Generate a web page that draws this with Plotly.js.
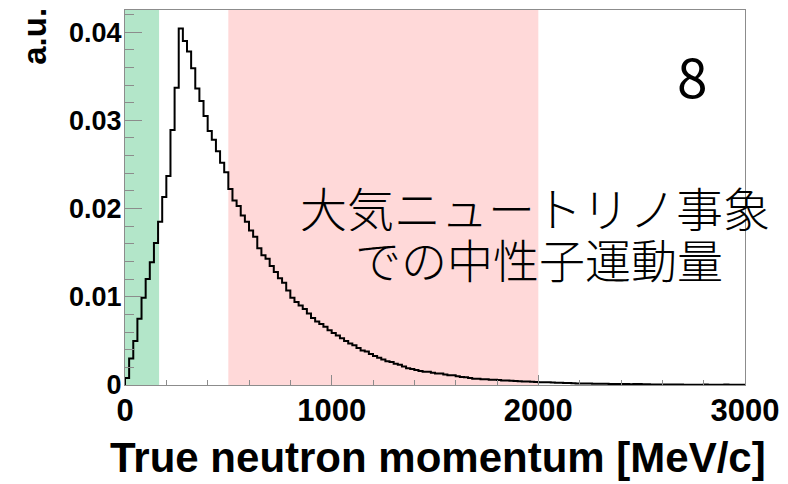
<!DOCTYPE html>
<html>
<head>
<meta charset="utf-8">
<script src="https://cdn.plot.ly/plotly-3.0.1.min.js"></script>
<style>
  html, body { margin: 0; padding: 0; background: #fff; }
  #chart { width: 788px; height: 484px; }
</style>
</head>
<body>
<div id="chart"></div>
<script>
// Neutron momentum spectrum, 20 MeV/c bins from 0 to 3000 MeV/c
const binWidth = 20;
const binStart = 0;
const counts = [
  0.0008, 0.0030, 0.0050, 0.0075, 0.0099, 0.0120, 0.0139, 0.0161, 0.0185, 0.0213,
  0.0237, 0.0289, 0.0337, 0.0404, 0.0390, 0.0378, 0.0359, 0.0336, 0.0322, 0.0305,
  0.0288, 0.0278, 0.0265, 0.0252, 0.0241, 0.0222, 0.0209, 0.0203, 0.0192, 0.0185,
  0.0175, 0.0168, 0.0155, 0.0147, 0.0143, 0.0135, 0.0128, 0.0121, 0.0116, 0.0107,
  0.0099, 0.0094, 0.0090, 0.0086, 0.0081, 0.0076, 0.0072, 0.0069, 0.0066, 0.0062,
  0.0059, 0.0056, 0.0053, 0.0050, 0.0047, 0.0045, 0.0042, 0.0039, 0.0038, 0.0035,
  0.0033, 0.0031, 0.0029, 0.0027, 0.0026, 0.0024, 0.0023, 0.0021, 0.0019, 0.0018,
  0.0017, 0.0016, 0.0015, 0.0015, 0.0014, 0.0013, 0.0013, 0.0012, 0.0011, 0.0011,
  0.00100, 0.00090, 0.00088, 0.00080, 0.00072, 0.00070, 0.00066, 0.00064, 0.00060, 0.00060,
  0.00058, 0.00052, 0.00050, 0.00047, 0.00046, 0.00042, 0.00040, 0.00040, 0.00036, 0.00034,
  0.00032, 0.00030, 0.00030, 0.00028, 0.00026, 0.00025, 0.00024, 0.00022, 0.00020, 0.00018,
  0.00018, 0.00017, 0.00016, 0.00015, 0.00014, 0.00014, 0.00013, 0.00012, 0.00012, 0.00011,
  0.00010, 0.00010, 0.00009, 0.00012, 0.00011, 0.00008, 0.00008, 0.00007, 0.00007, 0.00006,
  0.00006, 0.00006, 0.00005, 0.00005, 0.00005, 0.00004, 0.00004, 0.00004, 0.00004, 0.00004,
  0.00007, 0.00004, 0.00003, 0.00003, 0.00003, 0.00006, 0.00003, 0.00003, 0.00002, 0.00002
];

// Highlighted momentum windows [MeV/c]
const lowBand = [0, 165];
const midBand = [500, 2000];

const xTicks = [0, 1000, 2000, 3000];
const yTicks = [0, 0.01, 0.02, 0.03, 0.04];

const xTitle = 'True neutron momentum [MeV/c]';
const yTitle = 'a.u.';
const pageNumber = '8';
const captionLine1 = '大気ニュートリノ事象';
const captionLine2 = 'での中性子運動量';

// Step outline: start at zero on the first edge, then one level per bin
const edgesX = [binStart];
const levelsY = [0];
counts.forEach((c, i) => {
  edgesX.push(binStart + i * binWidth);
  levelsY.push(c);
});
edgesX.push(binStart + counts.length * binWidth);
levelsY.push(counts[counts.length - 1]);

const helv = 'Liberation Sans, Arial, Helvetica, sans-serif';
const cjk = 'Noto Sans CJK JP, Noto Sans, sans-serif';
const frameGrey = '#8c8c8c';

const trace = {
  type: 'scatter',
  mode: 'lines',
  x: edgesX,
  y: levelsY,
  line: { shape: 'hv', color: '#000000', width: 2 },
  hoverinfo: 'skip',
  cliponaxis: true
};

const layout = {
  width: 788,
  height: 484,
  margin: { l: 125, r: 43, t: 10, b: 99 },
  paper_bgcolor: '#ffffff',
  plot_bgcolor: '#ffffff',
  showlegend: false,
  xaxis: {
    range: [0, 3000],
    tickvals: xTicks,
    ticktext: xTicks.map(String),
    ticks: 'inside',
    ticklen: 10,
    tickwidth: 1,
    tickcolor: frameGrey,
    minor: { ticks: 'inside', dtick: 200, ticklen: 5, tickcolor: frameGrey, tickwidth: 1 },
    showline: true,
    linecolor: frameGrey,
    linewidth: 1,
    mirror: true,
    showgrid: false,
    zeroline: false,
    tickfont: { family: helv, size: 31, color: '#000', weight: 700 },
    ticklabelstandoff: -2
  },
  yaxis: {
    range: [0, 0.0425],
    tickvals: yTicks,
    ticktext: yTicks.map(v => (v === 0 ? '0' : v.toFixed(2))),
    ticks: 'inside',
    ticklen: 17,
    tickwidth: 1,
    tickcolor: frameGrey,
    minor: { ticks: 'inside', dtick: 0.002, ticklen: 9, tickcolor: frameGrey, tickwidth: 1 },
    showline: true,
    linecolor: frameGrey,
    linewidth: 1,
    mirror: true,
    showgrid: false,
    zeroline: false,
    tickfont: { family: helv, size: 27, color: '#000', weight: 700 },
    ticklabelstandoff: -3
  },
  shapes: [
    {
      type: 'rect', xref: 'x', yref: 'paper',
      x0: lowBand[0], x1: lowBand[1], y0: 0, y1: 1,
      fillcolor: '#b3e6c9', line: { width: 0 }, layer: 'below'
    },
    {
      type: 'rect', xref: 'x', yref: 'paper',
      x0: midBand[0], x1: midBand[1], y0: 0, y1: 1,
      fillcolor: '#ffd9d9', line: { width: 0 }, layer: 'below'
    }
  ],
  annotations: [
    {
      text: yTitle, xref: 'paper', yref: 'paper',
      x: -0.146, y: 0.93, xanchor: 'center', yanchor: 'middle',
      textangle: -90, showarrow: false,
      font: { family: helv, size: 33, color: '#000', weight: 700 }
    },
    {
      text: xTitle, xref: 'paper', yref: 'paper',
      x: 1.037, y: -0.192, xanchor: 'right', yanchor: 'middle',
      showarrow: false,
      font: { family: helv, size: 42, color: '#000', weight: 700 }
    },
    {
      text: pageNumber, xref: 'paper', yref: 'paper',
      x: 0.916, y: 0.83, xanchor: 'center', yanchor: 'middle',
      showarrow: false, borderpad: 0,
      font: { family: cjk, size: 55, color: '#000', weight: 400 }
    },
    {
      text: captionLine1, xref: 'paper', yref: 'paper',
      x: 0.6605, y: 0.478, xanchor: 'center', yanchor: 'middle',
      showarrow: false, borderpad: 0, height: 50, valign: 'middle',
      font: { family: cjk, size: 47, color: '#000', weight: 300 }
    },
    {
      text: captionLine2, xref: 'paper', yref: 'paper',
      x: 0.668, y: 0.338, xanchor: 'center', yanchor: 'middle',
      showarrow: false, borderpad: 0, height: 50, valign: 'middle',
      font: { family: cjk, size: 46, color: '#000', weight: 300 }
    }
  ]
};

Plotly.newPlot('chart', [trace], layout, { staticPlot: true, displayModeBar: false });
</script>
</body>
</html>
